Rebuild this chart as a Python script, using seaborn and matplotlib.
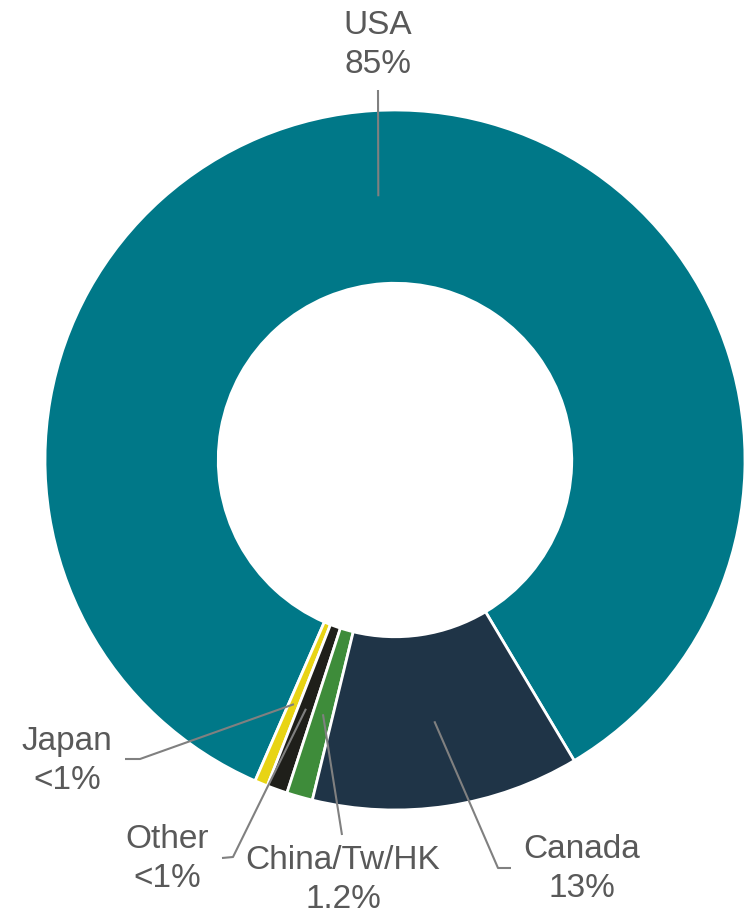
import numpy as np
import matplotlib
matplotlib.use("Agg")
import matplotlib.pyplot as plt
import seaborn as sns

# ---- data ----
categories = ["USA", "Japan", "Other", "China/Tw/HK", "Canada"]
shares = [84.9, 0.6, 0.95, 1.2, 12.35]
label_texts = ["USA\n85%", "Japan\n<1%", "Other\n<1%", "China/Tw/HK\n1.2%", "Canada\n13%"]
colors = ["#007888", "#e8d414", "#1f1f1a", "#3e8c3a", "#1f3447"]

sns.set_theme(style="white")
plt.rcParams['font.family'] = ['Liberation Sans', 'DejaVu Sans']

W, H = 747, 915
fig = plt.figure(figsize=(W / 100, H / 100), dpi=100)
ax = fig.add_axes([0, 0, 1, 1])
ax.set_xlim(0, W)
ax.set_ylim(0, H)
ax.set_aspect('equal')
ax.axis('off')

cx, cy = 395, H - 460
R = 350
wedges, _ = ax.pie(shares, colors=colors, radius=R, center=(cx, cy),
                   startangle=-59.2, counterclock=True, frame=True,
                   wedgeprops=dict(width=R * 0.495, edgecolor="white", linewidth=2))
ax.set_xlim(0, W)
ax.set_ylim(0, H)
ax.axis('off')

# label layout (pixel coords from top-left): text center, leader elbow, leader end
layout = {
    "USA": dict(text=(378, 45), path=[(378, 90)]),
    "Japan": dict(text=(67, 761), path=[(140, 759), (125, 759)]),
    "Other": dict(text=(167, 859), path=[(233, 857), (222, 858)]),
    "China/Tw/HK": dict(text=(343, 880), path=[(342, 835)]),
    "Canada": dict(text=(582, 869), path=[(498, 868), (511, 868)]),
}

line_color = "#808080"
text_color = "#595959"
for w, cat, lab in zip(wedges, categories, label_texts):
    mid = np.deg2rad((w.theta1 + w.theta2) / 2)
    r0 = 0.755 * R
    sx, sy = cx + r0 * np.cos(mid), cy + r0 * np.sin(mid)
    lay = layout[cat]
    xs = [sx] + [p[0] for p in lay["path"]]
    ys = [sy] + [H - p[1] for p in lay["path"]]
    ax.plot(xs, ys, color=line_color, lw=1.5, solid_capstyle='butt', zorder=5)
    tx, ty = lay["text"]
    ax.text(tx, H - ty, lab, ha="center", va="center", multialignment="center",
            fontsize=24, color=text_color, linespacing=1.3)

fig.savefig("out.png", dpi=100)
